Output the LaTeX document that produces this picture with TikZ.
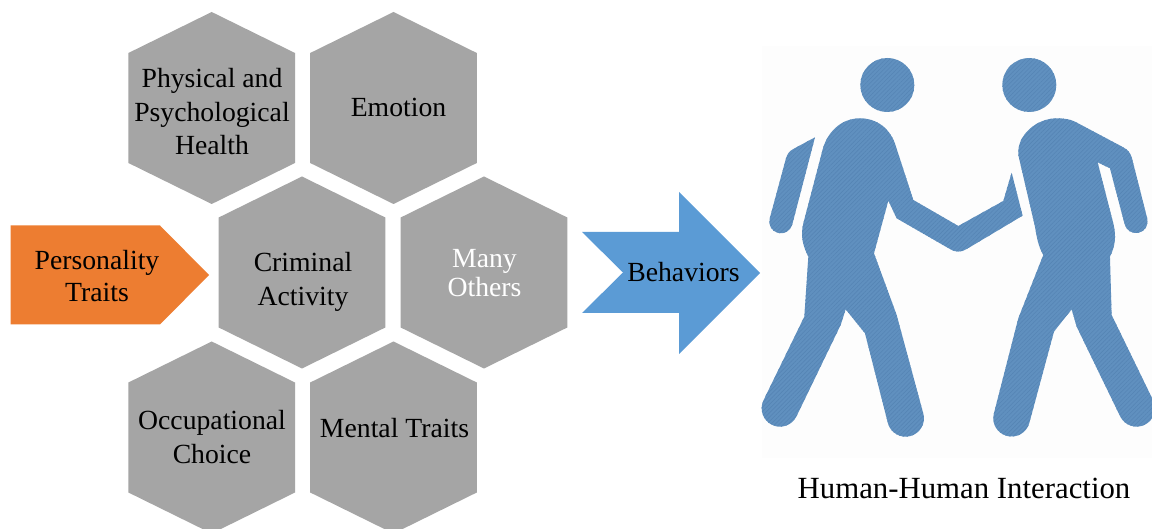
\documentclass[tikz,border=0pt]{standalone}
\usepackage{fontspec}
\setmainfont{Liberation Serif}
\usetikzlibrary{patterns.meta}
\definecolor{hexgrey}{HTML}{A5A5A5}
\definecolor{persorange}{HTML}{ED7D31}
\definecolor{behavblue}{HTML}{5B9BD5}
\definecolor{figblue}{HTML}{6090BF}
\definecolor{figline}{HTML}{5685B5}
\definecolor{faintbg}{HTML}{FDFDFD}
\tikzset{
  labeltext/.style={align=center,inner sep=0pt,font=\fontsize{27.7}{33.5}\selectfont},
  hexshape/.style={fill=hexgrey},
  person/.style={preaction={fill=figblue},pattern={Lines[angle=45,distance=3pt,line width=.6pt]},pattern color=figline}
}
\newcommand{\hexat}[2]{\fill[hexshape] (#1-83.3,#2-55) -- (#1,#2-96) -- (#1+83.3,#2-55) -- (#1+83.3,#2+55) -- (#1,#2+96) -- (#1-83.3,#2+55) -- cycle;}
\begin{document}
\begin{tikzpicture}[x=1pt,y=-1pt]
\useasboundingbox (0,0) rectangle (1152,529);
\clip (0,0) rectangle (1152,529);
\fill[white] (0,0) rectangle (1152,529);
\fill[faintbg] (762,46) rectangle (1152,458);
% hexagons
\hexat{211.7}{108}
\hexat{393.5}{108}
\hexat{302}{272.5}
\hexat{484}{272.5}
\hexat{211.7}{437.5}
\hexat{393.5}{437.5}
% arrows
\fill[persorange] (10.5,225.5) -- (160,225.5) -- (209,275) -- (160,324.5) -- (10.5,324.5) -- cycle;
\fill[behavblue] (582,232) -- (679,232) -- (679,192) -- (760,273) -- (679,354) -- (679,313) -- (582,313) -- (623,272.5) -- cycle;
% figures
\begin{scope}[shift={(750,40)},x=.3333pt,y=-.3333pt]
\fill[person] (412,135) circle [radius=81];
\fill[person] (838,135) circle [radius=81];
% left person's body
\fill[person] (330,235) .. controls (380,235) and (422,265) .. (438,320)
 -- (490,480) -- (625,558) -- (760,483) -- (785,398) -- (818,527) -- (652,626)
 .. controls (635,638) and (615,638) .. (598,626)
 -- (440,535) -- (415,482) -- (372,640) -- (440,825) -- (520,1121)
 arc[start angle=-15,end angle=165,radius=55]
 -- (345,880) -- (287,808) -- (272,855) -- (139.5,1129)
 arc[start angle=25.7,end angle=205.7,radius=55]
 -- (163,830) -- (175,650) .. controls (160,620) and (150,590) .. (160,550)
 -- (215,340) .. controls (228,278) and (272,235) .. (330,235) -- cycle;
% left person's far arm
\fill[person] (195,292) -- (130,327) .. controls (118,333) and (112,342) .. (108,355)
 -- (59,536) arc[start angle=195,end angle=15,radius=35] -- cycle;
% right person
\fill[person] (920,235) .. controls (945,235) and (960,238) .. (975,245)
 -- (1120,322) .. controls (1135,330) and (1142,340) .. (1146,355)
 -- (1192,536) arc[start angle=-14,end angle=166,radius=35]
 -- (1080,385) -- (1043,367) -- (1090,550) .. controls (1100,590) and (1095,620) .. (1080,650)
 -- (1085,825) -- (1209.5,1081) arc[start angle=-26,end angle=154,radius=55]
 -- (980,860) -- (965,808) -- (912,875) -- (838,1149)
 arc[start angle=15,end angle=195,radius=55]
 -- (805,835) -- (880,645) .. controls (865,620) and (860,590) .. (855,560)
 -- (805,345) .. controls (800,285) and (860,235) .. (920,235) -- cycle;
\end{scope}
% labels
\node[labeltext] (phys) at (212,112) {Physical and\\Psychological\\Health};
\node[labeltext] (emot) at (398.5,107) {Emotion};
\node[labeltext] (crim) at (303,282) {Criminal\\Activity};
\node[labeltext,text=white,font=\fontsize{27.7}{28.5}\selectfont] (many) at (484.5,273) {Many\\Others};
\node[labeltext] (occu) at (212,437) {Occupational\\Choice};
\node[labeltext] (ment) at (394.5,428) {Mental Traits};
\node[labeltext,font=\fontsize{27.7}{32}\selectfont] (pers) at (97,276) {Personality\\Traits};
\node[labeltext] (behv) at (683.5,272) {Behaviors};
\node[labeltext,font=\fontsize{30.8}{36}\selectfont] (hhi) at (964,488) {Human-Human Interaction};
\end{tikzpicture}
\end{document}
